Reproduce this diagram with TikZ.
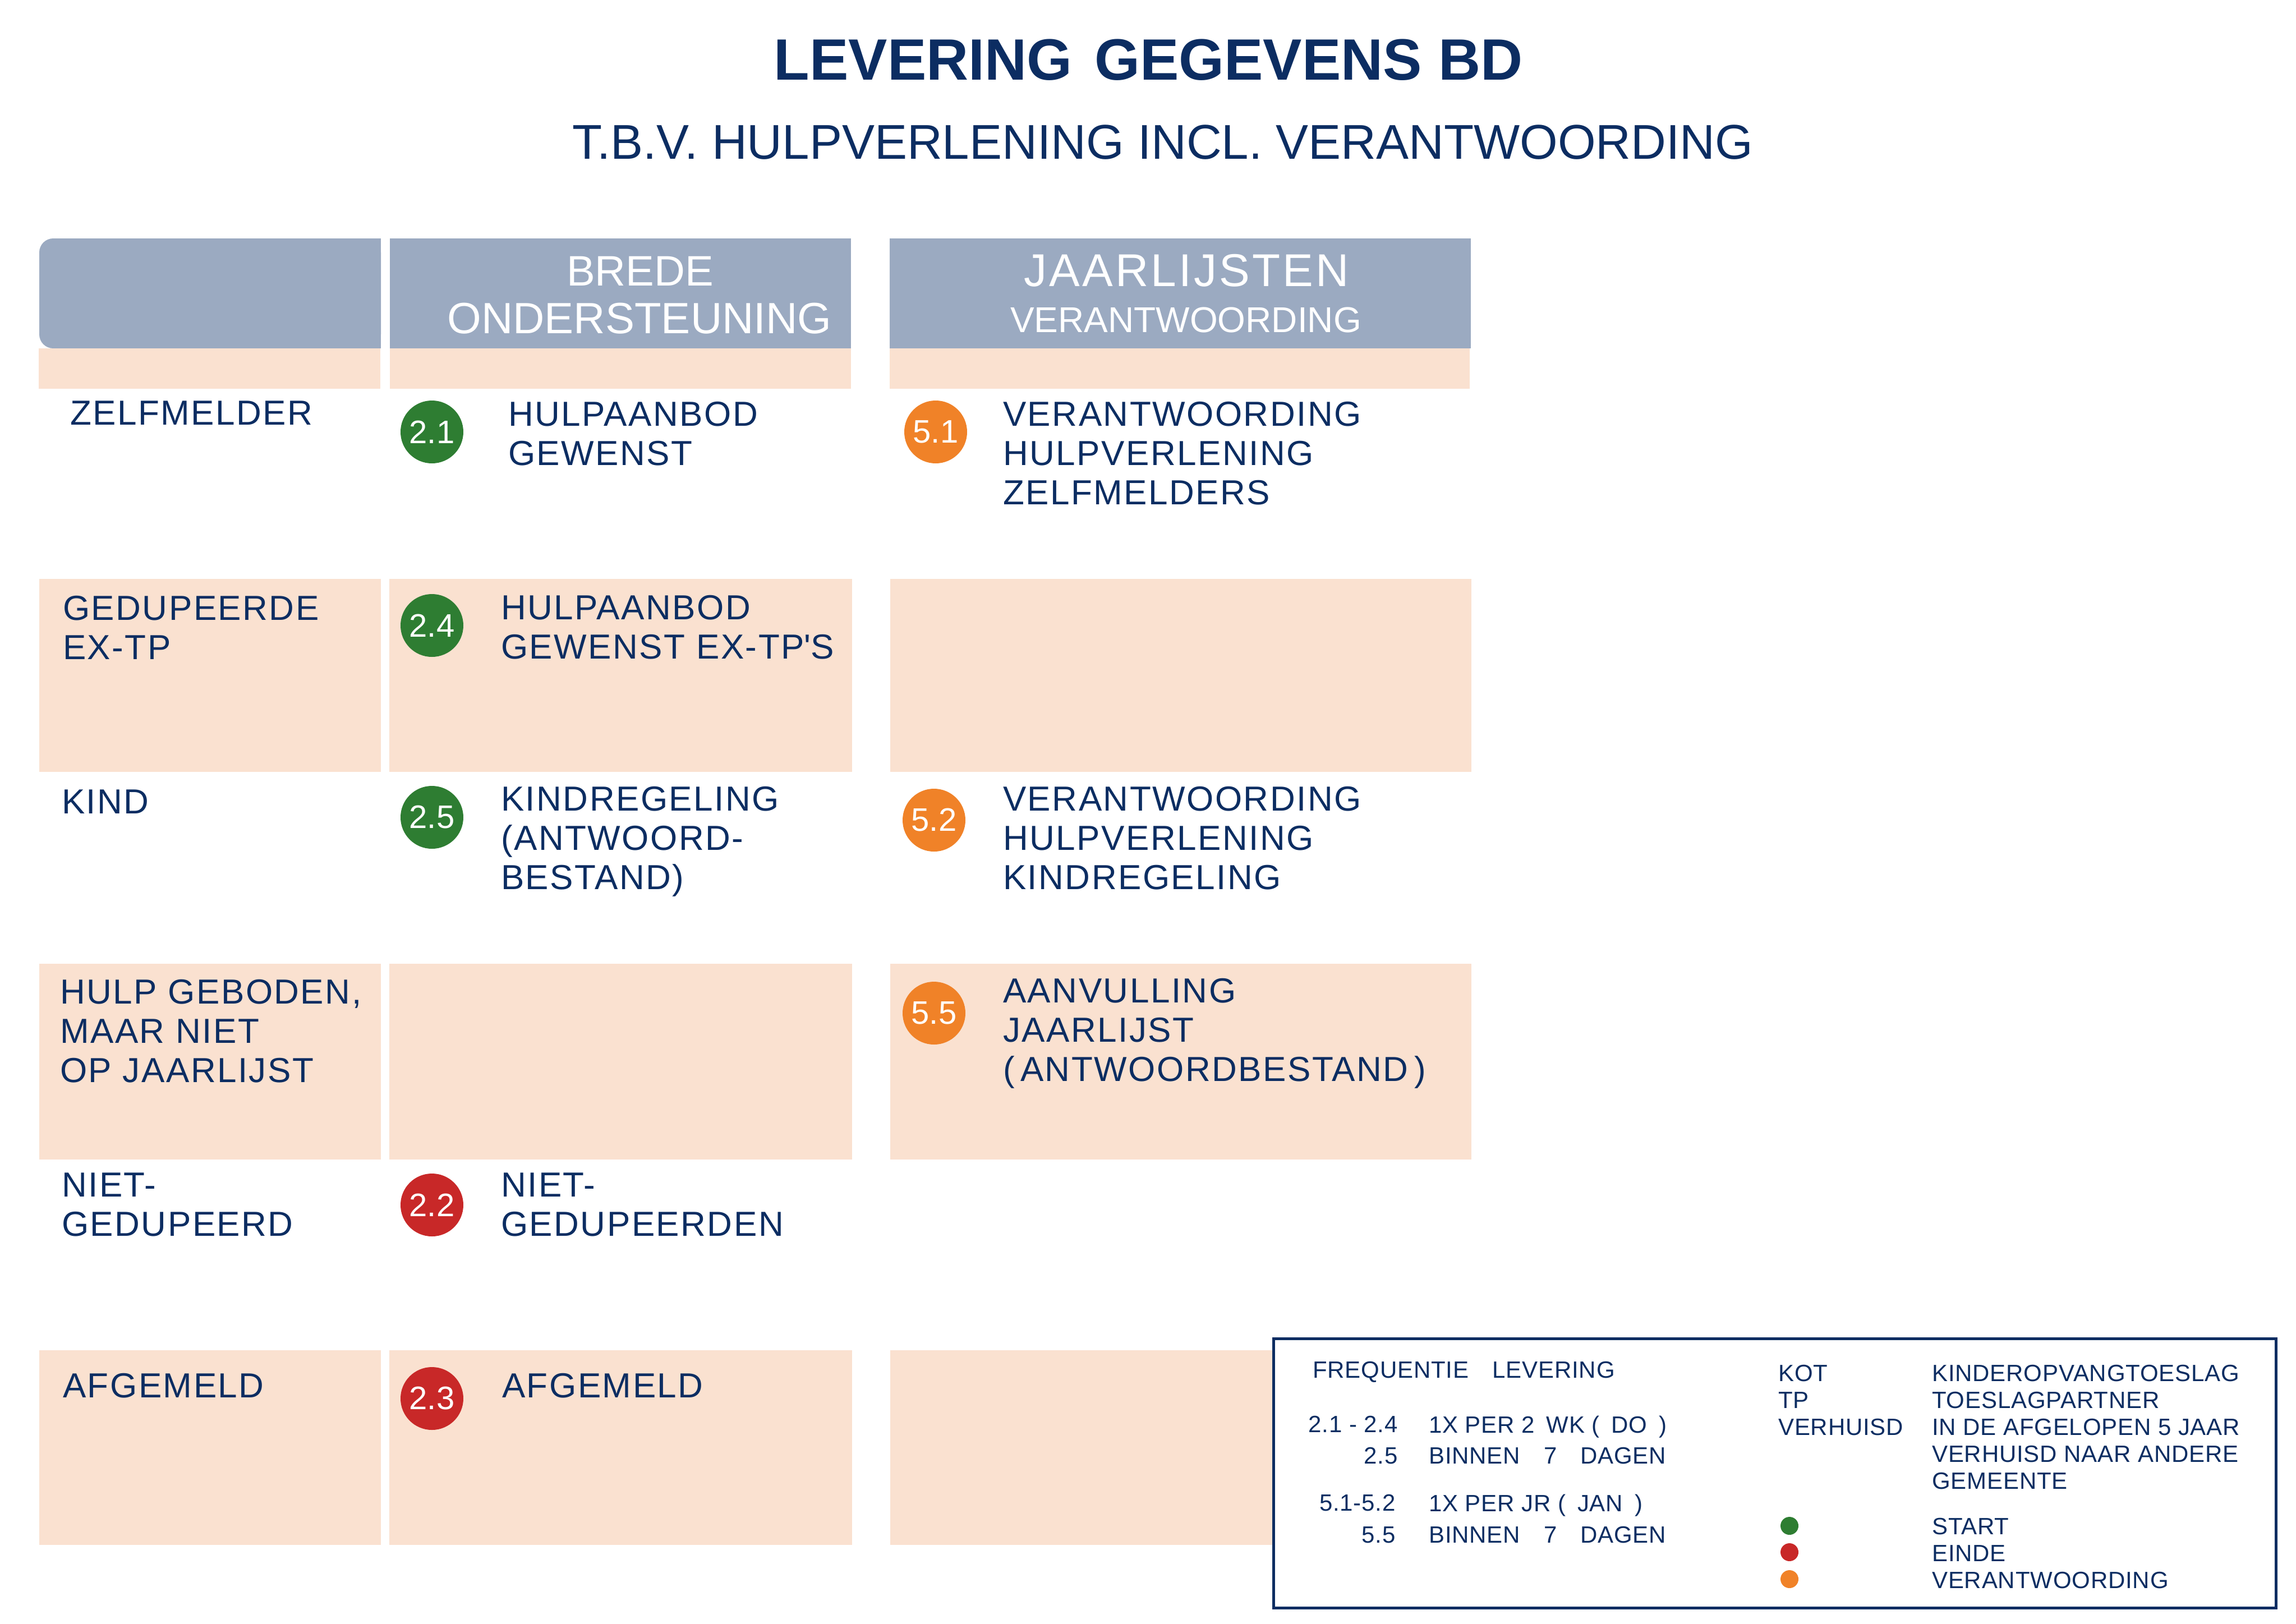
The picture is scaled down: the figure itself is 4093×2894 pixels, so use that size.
\documentclass[tikz,border=0pt]{standalone}
\usepackage{fontspec}
\setmainfont{Liberation Sans}
\definecolor{navy}{RGB}{12,45,98}
\definecolor{hdrgrey}{RGB}{155,170,193}
\definecolor{peach}{RGB}{250,225,208}
\definecolor{cgreen}{RGB}{46,125,50}
\definecolor{cred}{RGB}{200,40,40}
\definecolor{corange}{RGB}{240,130,40}
\newcommand\bodyfnt{\fontsize{62}{70}\selectfont\addfontfeatures{LetterSpace=4}}
\newcommand\legfnt{\fontsize{42}{48}\selectfont\addfontfeatures{LetterSpace=2}}
\tikzset{
  lbl/.style={anchor=north west, inner sep=0pt, align=left, text=navy, font=\bodyfnt},
  leg/.style={anchor=north west, inner sep=0pt, align=left, text=navy, font=\legfnt},
  legr/.style={anchor=north east, inner sep=0pt, align=right, text=navy, font=\legfnt},
  num/.style={circle, minimum size=112pt, inner sep=0pt, text=white, font=\fontsize{58}{60}\selectfont},
  dot/.style={circle, minimum size=32pt, inner sep=0pt},
  hdrtxt/.style={anchor=north, inner sep=0pt, text=white},
  pbox/.style={fill=peach},
}
\begin{document}
\begin{tikzpicture}[x=1pt,y=-1pt]
\useasboundingbox (0,0) rectangle (4093,2894);
\fill[white] (0,0) rectangle (4093,2894);
% header
\fill[hdrgrey, rounded corners=25pt] (70,425) rectangle (679,621);
\fill[hdrgrey] (300,425) rectangle (679,621);
\fill[hdrgrey] (695,425) rectangle (1517,621);
\fill[hdrgrey] (1586,425) rectangle (2622,621);
\fill[pbox] (69,621) rectangle (678,693);
\fill[pbox] (695,621) rectangle (1517,693);
\fill[pbox] (1586,621) rectangle (2620,693);
% peach rows
\foreach \ya/\yb in {1032/1376, 1718/2067, 2407/2754}{
  \fill[pbox] (70,\ya) rectangle (679,\yb);
  \fill[pbox] (694,\ya) rectangle (1519,\yb);
  \fill[pbox] (1587,\ya) rectangle (2623,\yb);
}
% titles
\node[anchor=north, inner sep=0pt, text=navy, font=\bfseries\fontsize{104}{110}\selectfont] (title) at (2047,70) {LEVERING\hspace{40pt}GEGEVENS BD};
\node[anchor=north, inner sep=0pt, text=navy, font=\fontsize{87}{90}\selectfont] (sub) at (2073,223) {T.B.V. HULPVERLENING INCL. VERANTWOORDING};
% header texts
\node[hdrtxt, font=\fontsize{76}{80}\selectfont] (h1) at (1141,457) {BREDE};
\node[hdrtxt, font=\fontsize{78}{80}\selectfont] (h2) at (1140,540) {ONDERSTEUNING};
\node[hdrtxt, font=\fontsize{82}{86}\selectfont\addfontfeatures{LetterSpace=5}] (h3) at (2115,453) {JAARLIJSTEN};
\node[hdrtxt, font=\fontsize{64}{68}\selectfont] (h4) at (2114,548) {VERANTWOORDING};
% row 1
\node[lbl] (z1) at (125,715) {ZELFMELDER};
\node[num, fill=cgreen] (n21) at (770,770) {2.1};
\node[lbl] (t21) at (906,716) {HULPAANBOD\\GEWENST};
\node[num, fill=corange] (n51) at (1668,770) {5.1};
\node[lbl] (t51) at (1788,716) {VERANTWOORDING\\HULPVERLENING\\ZELFMELDERS};
% row 2
\node[lbl] (z2) at (112,1062) {GEDUPEERDE\\EX-TP};
\node[num, fill=cgreen] (n24) at (770,1115) {2.4};
\node[lbl] (t24) at (893,1061) {HULPAANBOD\\GEWENST EX-TP\textquotesingle S};
% row 3
\node[lbl] (z3) at (110,1408) {KIND};
\node[num, fill=cgreen] (n25) at (770,1457) {2.5};
\node[lbl] (t25) at (893,1402) {KINDREGELING\\(ANTWOORD-\\BESTAND)};
\node[num, fill=corange] (n52) at (1665,1462) {5.2};
\node[lbl] (t52) at (1788,1402) {VERANTWOORDING\\HULPVERLENING\\KINDREGELING};
% row 4
\node[lbl] (z4) at (107,1746) {HULP GEBODEN,\\MAAR NIET\\OP JAARLIJST};
\node[num, fill=corange] (n55) at (1665,1806) {5.5};
\node[lbl] (t55) at (1788,1744) {AANVULLING\\JAARLIJST\\(\,ANTWOORDBESTAND\,)};
% row 5
\node[lbl] (z5) at (110,2091) {NIET-\\GEDUPEERD};
\node[num, fill=cred] (n22) at (770,2148) {2.2};
\node[lbl] (t22) at (893,2091) {NIET-\\GEDUPEERDEN};
% row 6
\node[lbl] (z6) at (112,2448) {AFGEMELD};
\node[num, fill=cred] (n23) at (770,2493) {2.3};
\node[lbl] (t23) at (895,2448) {AFGEMELD};
% legend
\draw[navy, line width=5pt, fill=white] (2270,2386) rectangle (4057,2866);
\node[leg] (lf) at (2340,2427) {FREQUENTIE\quad LEVERING};
\node[legr] (l1a) at (2492,2524) {2.1 - 2.4};
\node[leg] (l1b) at (2547,2524) {1X PER 2\enspace WK (\enspace DO\enspace)};
\node[legr] (l2a) at (2492,2580) {2.5};
\node[leg] (l2b) at (2547,2580) {BINNEN\quad 7\quad DAGEN};
\node[legr] (l3a) at (2488,2664) {5.1-5.2};
\node[leg] (l3b) at (2547,2664) {1X PER JR (\enspace JAN\enspace)};
\node[legr] (l4a) at (2488,2721) {5.5};
\node[leg] (l4b) at (2547,2721) {BINNEN\quad 7\quad DAGEN};
\node[leg] (k1) at (3170,2433) {KOT\\TP\\VERHUISD};
\node[leg] (k2) at (3444,2433) {KINDEROPVANGTOESLAG\\TOESLAGPARTNER\\IN DE AFGELOPEN 5 JAAR\\VERHUISD NAAR ANDERE\\GEMEENTE};
\node[dot, fill=cgreen] (dg) at (3190,2720) {};
\node[dot, fill=cred] (dr) at (3190,2767) {};
\node[dot, fill=corange] (do) at (3190,2815) {};
\node[leg] (k3) at (3444,2706) {START\\EINDE\\VERANTWOORDING};
\end{tikzpicture}
\end{document}
